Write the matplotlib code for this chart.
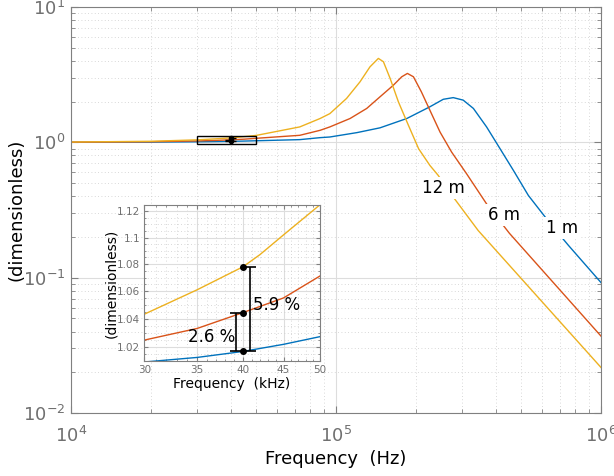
import numpy as np
import matplotlib.pyplot as plt
from matplotlib.ticker import FixedLocator, FixedFormatter, NullFormatter
from matplotlib.patches import Rectangle

# values (frequency in Hz, response dimensionless)
f_1m = [1e4, 2e4, 3e4, 3.5e4, 4e4, 4.5e4, 5e4, 7.3e4, 8.71e4, 9.48e4, 1.2e5, 1.466e5, 1.85e5,
        2.26e5, 2.54e5, 2.77e5, 3.02e5, 3.3e5, 3.7e5, 4.16e5, 4.67e5, 5.32e5, 6.52e5, 7.54e5, 1e6]
y_1m = [1.001, 1.004, 1.0093, 1.0125, 1.0167, 1.0217, 1.0271, 1.047, 1.083, 1.095, 1.18, 1.28, 1.50,
        1.83, 2.08, 2.14, 2.05, 1.78, 1.30, 0.897, 0.621, 0.405, 0.243, 0.173, 0.092]

f_6m = [1e4, 2e4, 3e4, 3.5e4, 4e4, 4.5e4, 5e4, 7.3e4, 8.71e4, 9.48e4, 1.13e5, 1.306e5, 1.466e5,
        1.645e5, 1.77e5, 1.86e5, 1.96e5, 2.1e5, 2.26e5, 2.47e5, 2.73e5, 3.11e5, 3.7e5, 4.51e5, 1e6]
y_6m = [1.003, 1.010, 1.0247, 1.033, 1.0444, 1.055, 1.071, 1.127, 1.227, 1.30, 1.50, 1.78, 2.17,
        2.64, 3.05, 3.23, 3.05, 2.36, 1.73, 1.19, 0.848, 0.586, 0.351, 0.213, 0.037]

f_12m = [1e4, 2e4, 3e4, 3.5e4, 4e4, 4.2e4, 4.5e4, 5e4, 7.3e4, 8.71e4, 9.48e4, 1.096e5, 1.232e5,
         1.343e5, 1.445e5, 1.51e5, 1.6e5, 1.72e5, 1.875e5, 2.05e5, 2.26e5, 2.43e5, 2.77e5,
         3.44e5, 1e6]
y_12m = [1.005, 1.018, 1.0432, 1.061, 1.078, 1.087, 1.102, 1.125, 1.30, 1.50, 1.63, 2.11, 2.80,
         3.61, 4.17, 3.94, 2.97, 1.99, 1.34, 0.897, 0.676, 0.570, 0.394, 0.223, 0.0217]

# markers at 40 kHz and spread bars
f_mark = 40e3
y_mark = [1.0167, 1.0444, 1.078]
bar_26 = (39.2e3, 1.0167, 1.0444)
bar_59 = (40.8e3, 1.0167, 1.078)

blue, red, yellow = '#0072BD', '#D95319', '#EDB120'
gray = '#808080'

fig = plt.figure(figsize=(6.14, 4.76), dpi=100)
ax = fig.add_axes([71/614, 63/476, 530/614, 406/476])

ax.plot(f_1m, y_1m, color=blue, lw=1.0)
ax.plot(f_6m, y_6m, color=red, lw=1.0)
ax.plot(f_12m, y_12m, color=yellow, lw=1.0)
ax.set_xscale('log')
ax.set_yscale('log')
ax.set_xlim(1e4, 1e6)
ax.set_ylim(1e-2, 1e1)

# zoom box and markers
ax.add_patch(Rectangle((30e3, 0.98), 20e3, 0.14, fill=False, ec='black', lw=1.0, zorder=5))
for x, lo, hi in [bar_26, bar_59]:
    ax.errorbar([x], [(lo + hi) / 2], yerr=[[(hi - lo) / 2], [(hi - lo) / 2]],
                fmt='none', ecolor='black', elinewidth=1.2, capsize=2, zorder=6)
ax.plot([f_mark] * 3, y_mark, 'o', color='black', ms=3, zorder=6)

ax.grid(True, which='major', color='#dddddd', lw=0.8, ls='-')
ax.grid(True, which='minor', color='#cccccc', lw=0.6, ls=(0, (1, 3)))
ax.tick_params(which='both', direction='in', top=True, right=True, colors=gray,
               labelcolor='#707070', labelsize=13)
ax.tick_params(which='major', length=5, pad=9)
ax.tick_params(which='minor', length=3)
ax.tick_params(axis='y', which='major', pad=4)
for s in ax.spines.values():
    s.set_color(gray)
ax.set_xlabel('Frequency  (Hz)', fontsize=13, labelpad=3)
ax.set_ylabel('(dimensionless)', fontsize=13, labelpad=-2)

for txt, x, y in [('12 m', 2.54e5, 0.459), ('6 m', 4.3e5, 0.29), ('1 m', 7.16e5, 0.233)]:
    ax.text(x, y, txt, fontsize=12, ha='center', va='center',
            bbox=dict(fc='white', ec='none', pad=1.5), zorder=7)

# inset
ins = fig.add_axes([144.3/614, 115/476, 175.4/614, 156/476])
ins.plot(np.array(f_1m) / 1e3, y_1m, color=blue, lw=1.0)
ins.plot(np.array(f_6m) / 1e3, y_6m, color=red, lw=1.0)
ins.plot(np.array(f_12m) / 1e3, y_12m, color=yellow, lw=1.0)
for x, lo, hi in [bar_26, bar_59]:
    ins.errorbar([x / 1e3], [(lo + hi) / 2], yerr=[[(hi - lo) / 2], [(hi - lo) / 2]],
                 fmt='none', ecolor='black', elinewidth=1.2, capsize=4, capthick=1.2, zorder=6)
ins.plot([f_mark / 1e3] * 3, y_mark, 'o', color='black', ms=4, zorder=7)
ins.set_xscale('log')
ins.set_yscale('log')
ins.set_xlim(30, 50)
ins.set_ylim(1.01, 1.125)

xt = [30, 35, 40, 45, 50]
yt = [1.02, 1.04, 1.06, 1.08, 1.1, 1.12]
ins.xaxis.set_major_locator(FixedLocator(xt))
ins.xaxis.set_major_formatter(FixedFormatter([str(v) for v in xt]))
ins.xaxis.set_minor_locator(FixedLocator(np.arange(30, 51, 1)))
ins.xaxis.set_minor_formatter(NullFormatter())
ins.yaxis.set_major_locator(FixedLocator(yt))
ins.yaxis.set_major_formatter(FixedFormatter([f'{v:g}' for v in yt]))
ins.yaxis.set_minor_locator(FixedLocator(np.arange(1.01, 1.126, 0.005)))
ins.yaxis.set_minor_formatter(NullFormatter())
ins.grid(True, which='major', color='#dddddd', lw=0.8, ls='-')
ins.grid(True, which='minor', color='#cccccc', lw=0.6, ls=(0, (1, 3)))
ins.tick_params(which='both', direction='in', top=True, right=True, colors=gray,
                labelcolor='#707070', labelsize=7.5)
ins.tick_params(which='major', length=3, pad=3)
ins.tick_params(which='minor', length=1.5)
for s in ins.spines.values():
    s.set_color(gray)
ins.set_xlabel('Frequency  (kHz)', fontsize=10, labelpad=1)
ins.set_ylabel('(dimensionless)', fontsize=10, labelpad=-1)
ins.text(36.5, 1.027, '2.6 %', fontsize=12, ha='center', va='center', zorder=8)
ins.text(44.1, 1.0498, '5.9 %', fontsize=12, ha='center', va='center', zorder=8)

fig.savefig('out.png', dpi=100)
